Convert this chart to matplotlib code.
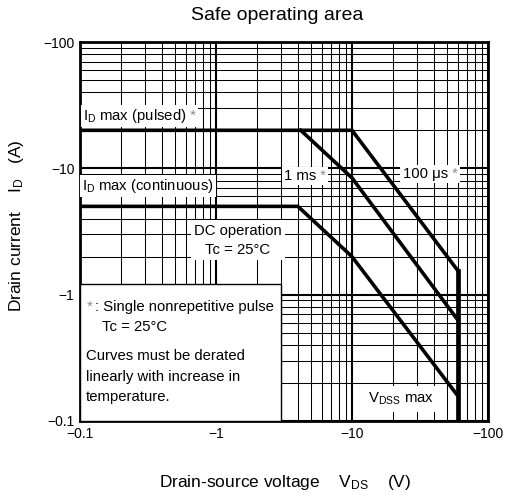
import matplotlib
matplotlib.use("Agg")
import matplotlib.pyplot as plt
from matplotlib.patches import Rectangle
from matplotlib.offsetbox import TextArea, HPacker, AnnotationBbox
from matplotlib.ticker import LogLocator, NullFormatter

plt.rcParams['font.family'] = ['Liberation Sans', 'DejaVu Sans']
plt.rcParams['mathtext.default'] = 'regular'

# ---- data (magnitudes; axis labels carry the minus sign) ----
# I_D max (pulsed) -> 100 us limit -> V_DSS max
vds_100us = [0.1, 10, 60]
id_100us = [20, 20, 1.55]
# 1 ms pulse limit
vds_1ms = [4.2, 10, 60]
id_1ms = [20, 8.4, 0.63]
# DC operation (starts at I_D max continuous)
vds_dc = [0.1, 4.0, 10, 60]
id_dc = [5, 5, 2, 0.158]
# V_DSS max vertical limit
vdss_x = [60, 60]
vdss_y = [1.55, 0.1]

tick_vals = [0.1, 1, 10, 100]
x_tick_labels = ['\u22120.1', '\u22121', '\u221210', '\u2212100']
y_tick_labels = ['\u22120.1', '\u22121', '\u221210', '\u2212100']

W, H = 507, 497
fig = plt.figure(figsize=(W / 100, H / 100), dpi=100)
ax = fig.add_axes([80 / W, 1 - 421 / H, 408 / W, 379 / H])
ax.set_xscale('log')
ax.set_yscale('log')
ax.set_xlim(0.1, 100)
ax.set_ylim(0.1, 100)

ax.set_xticks(tick_vals)
ax.set_xticklabels(x_tick_labels)
ax.set_yticks(tick_vals)
ax.set_yticklabels(y_tick_labels)
ax.xaxis.set_minor_locator(LogLocator(base=10, subs=range(2, 10)))
ax.yaxis.set_minor_locator(LogLocator(base=10, subs=range(2, 10)))
ax.xaxis.set_minor_formatter(NullFormatter())
ax.yaxis.set_minor_formatter(NullFormatter())
ax.tick_params(which='both', length=0, labelsize=10, pad=4)
ax.grid(which='major', color='black', lw=1.5, zorder=0)
ax.grid(which='minor', color='black', lw=0.75, zorder=0)
ax.set_axisbelow(True)
for s in ax.spines.values():
    s.set_linewidth(2.0)

lw = 2.6
ax.plot(vds_100us, id_100us, color='black', lw=lw, zorder=5, solid_joinstyle='miter')
ax.plot(vds_1ms, id_1ms, color='black', lw=lw, zorder=5, solid_joinstyle='miter')
ax.plot(vds_dc, id_dc, color='black', lw=lw, zorder=5, solid_joinstyle='miter')
ax.plot(vdss_x, vdss_y, color='black', lw=3.4, zorder=5)

fs = 10.7
gray = '#8a8a8a'


def label(parts, xy, align, pad=0.15):
    areas = [TextArea(t, textprops=dict(color=c, fontsize=fs)) for t, c in parts]
    pack = HPacker(children=areas, align='baseline', pad=0, sep=0)
    ab = AnnotationBbox(pack, xy, xycoords='data', box_alignment=align,
                        frameon=True, pad=pad,
                        bboxprops=dict(fc='white', ec='none'), zorder=3)
    ax.add_artist(ab)


label([('I$_D$ max (pulsed)', 'black'), ('\u00a0*', gray)], (0.105, 25.9), (0, 0.5))
label([('I$_D$ max (continuous)', 'black')], (0.104, 7.2), (0, 0.5))
label([('1 ms', 'black'), ('\u00a0*', gray)], (4.5, 8.7), (0.5, 0.5))
label([('100 \u03bcs', 'black'), ('\u00a0*', gray)], (37.5, 9.0), (0.5, 0.5))
label([('V$_{DSS}$ max', 'black')], (22.9, 0.15), (0.5, 0.5), pad=0.35)

ax.text(1.45, 2.7, 'DC operation\nTc = 25\u00b0C', ha='center', va='center',
        fontsize=fs, linespacing=1.45, zorder=3,
        bbox=dict(fc='white', ec='none', pad=2.5))

# note box
ax.add_patch(Rectangle((0, 0), 0.493, 0.361, transform=ax.transAxes,
                       fc='white', ec='black', lw=1.0, zorder=3))
ax.text(0.0164, 0.301, '*', color=gray, fontsize=fs, va='center', transform=ax.transAxes, zorder=4)
ax.text(0.036, 0.301, ': Single nonrepetitive pulse', fontsize=fs, va='center', transform=ax.transAxes, zorder=4)
ax.text(0.053, 0.248, 'Tc = 25\u00b0C', fontsize=fs, va='center', transform=ax.transAxes, zorder=4)
ax.text(0.0147, 0.171, 'Curves must be derated', fontsize=fs, va='center', transform=ax.transAxes, zorder=4)
ax.text(0.0147, 0.116, 'linearly with increase in', fontsize=fs, va='center', transform=ax.transAxes, zorder=4)
ax.text(0.0147, 0.064, 'temperature.', fontsize=fs, va='center', transform=ax.transAxes, zorder=4)

fig.text(277.5 / W, 1 - 15 / H, 'Safe operating area', ha='center', va='center', fontsize=14)
fig.text(285 / W, 1 - 483 / H, 'Drain-source voltage    V$_{DS}$    (V)', ha='center', va='center', fontsize=12.5)
fig.text(17 / W, 1 - 226 / H, 'Drain current    I$_D$   (A)', ha='center', va='center', fontsize=12.5, rotation=90)

fig.savefig('out.png', dpi=100)
